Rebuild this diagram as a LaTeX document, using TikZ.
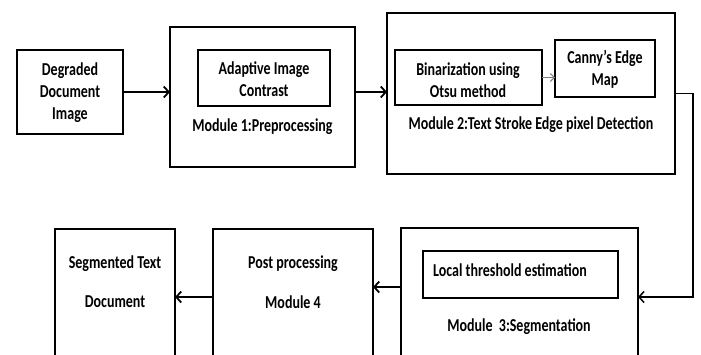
\documentclass[tikz,border=0pt]{standalone}
\usepackage{fontspec}
\setmainfont{Carlito}
\usepackage{graphicx}
\usetikzlibrary{arrows.meta}
\newcommand\sq[1]{\scalebox{1}[1.3]{#1}}
\newcommand\ml[1]{\sq{\begin{tabular}{@{}c@{}}#1\end{tabular}}}
\begin{document}
\begin{tikzpicture}[x=1pt,y=-1pt,
 box/.style={draw, line width=2.4pt, inner sep=0pt, outer sep=0pt},
 lbl/.style={font=\fontsize{14}{17.2}\selectfont\bfseries, inner sep=0pt},
 arr/.style={line width=1.8pt, -{Straight Barb[length=5pt,width=11pt,line width=1.8pt]}},
]
\useasboundingbox (0,0) rectangle (701,354);
\clip (0,0) rectangle (701,354);
\fill[white] (0,0) rectangle (701,354);

% top row
\node[box, minimum width=106, minimum height=84] (a) at (70,92) {};
\node[lbl] (ta) at (70,93) {\ml{Degraded\\Document\\Image}};

\node[box, minimum width=185, minimum height=140] (m1) at (262.5,97) {};
\node[box, minimum width=132, minimum height=56] (i1) at (264,78) {};
\node[lbl] (ti1) at (264,81) {\ml{Adaptive Image\\Contrast}};
\node[lbl] (tm1) at (262.5,127) {\sq{Module 1:Preprocessing}};

\node[box, minimum width=288, minimum height=161] (m2) at (531,93.5) {};
\node[box, minimum width=147, minimum height=55] (bin) at (468.5,77.5) {};
\node[lbl] (tbin) at (468,82) {\ml{Binarization using\\Otsu method}};
\node[box, minimum width=100, minimum height=57] (can) at (605,68.5) {};
\node[lbl] (tcan) at (605,70) {\ml{Canny's Edge\\Map}};
\node[lbl] (tm2) at (531,125) {\sq{Module 2:Text Stroke Edge pixel Detection}};

% bottom row
\node[box, minimum width=120, minimum height=151] (seg) at (115,304.5) {};
\node[lbl] (ts1) at (115,264) {\sq{Segmented Text}};
\node[lbl] (ts2) at (115,302) {\sq{Document}};

\node[box, minimum width=160, minimum height=151] (m4) at (293,304.5) {};
\node[lbl] (tp1) at (293,264) {\sq{Post processing}};
\node[lbl] (tp2) at (293,302) {\sq{Module 4}};

\node[box, minimum width=237, minimum height=152] (m3) at (519.5,304) {};
\node[box, minimum width=195, minimum height=47] (i3) at (520.5,274.5) {};
\node[lbl, anchor=west] (ti3) at (433,270) {\sq{Local threshold estimation}};
\node[lbl] (tm3) at (519,327) {\sq{Module~~3:Segmentation}};

% connectors
\coordinate (c1) at (693,297);
\coordinate (y34) at (0,287);
\coordinate (y4s) at (0,297);
\draw[arr] (a.east) -- (a.east -| m1.west);
\draw[arr] (m1.east |- a.east) -- (m2.west |- a.east);
\draw[line width=1pt, gray, -{Straight Barb[length=4pt,width=8pt]}] (bin.east) -- (bin.east -| can.west);
\draw[line width=1.5pt, -{Straight Barb[length=5pt,width=11pt,line width=1.5pt]}] (m2.east) -| (c1) -- (c1 -| m3.east);
\draw[arr] (m3.west |- y34) -- (m4.east |- y34);
\draw[arr] (m4.west |- y4s) -- (seg.east |- y4s);
\end{tikzpicture}
\end{document}
